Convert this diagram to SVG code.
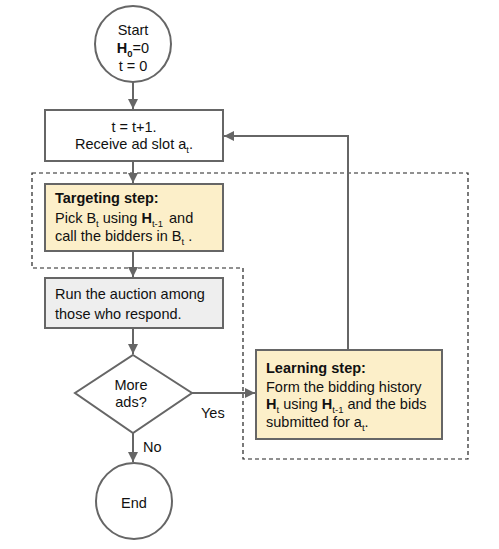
<svg xmlns="http://www.w3.org/2000/svg" width="499" height="549" viewBox="0 0 499 549">
<defs>
<style>
text{font-family:"Liberation Sans",Arial,sans-serif;font-size:14.5px;fill:#111}
.c{text-anchor:middle}
.b{font-weight:bold}
.s{font-size:9.5px}
.shape{stroke:#666;stroke-width:2}
.conn{stroke:#666;stroke-width:2;fill:none}
.dash{stroke:#222;stroke-width:1.2;fill:none;stroke-dasharray:4 3}
</style>
<marker id="ah" markerUnits="userSpaceOnUse" markerWidth="12" markerHeight="12" refX="10" refY="5" orient="auto">
<path d="M0,0 L10,5 L0,10 Z" fill="#666"/>
</marker>
</defs>
<rect width="499" height="549" fill="#fff"/>
<path id="region" class="dash" d="M32,173 H468 V459 H243 V268 H32 Z"/>
<g id="connectors">
<line class="conn" x1="133" y1="82" x2="133" y2="109" marker-end="url(#ah)"/>
<line class="conn" x1="133" y1="161" x2="133" y2="183" marker-end="url(#ah)"/>
<line class="conn" x1="133" y1="251" x2="133" y2="277" marker-end="url(#ah)"/>
<line class="conn" x1="133" y1="328" x2="133" y2="354" marker-end="url(#ah)"/>
<line class="conn" x1="133" y1="433" x2="133" y2="462" marker-end="url(#ah)"/>
<line class="conn" x1="192" y1="393" x2="255" y2="393" marker-end="url(#ah)"/>
<polyline class="conn" points="348,350 348,136 224,136" marker-end="url(#ah)"/>
<text x="201" y="418">Yes</text>
<text x="143" y="452">No</text>
</g>
<g id="start">
<circle class="shape" cx="133" cy="44" r="38" fill="#fff"/>
<text class="c" x="133" y="35">Start</text>
<text class="c" x="133" y="53"><tspan class="b">H</tspan><tspan class="s b" dy="4">0</tspan><tspan dy="-4">=0</tspan></text>
<text class="c" x="133" y="71">t = 0</text>
</g>
<g id="receive">
<rect class="shape" x="45" y="110" width="178" height="51" fill="#fff"/>
<text class="c" x="134" y="132">t = t+1.</text>
<text class="c" x="134" y="149">Receive ad slot a<tspan class="s" dy="4">t</tspan><tspan dy="-4">.</tspan></text>
</g>
<g id="targeting">
<rect class="shape" x="45" y="184" width="178" height="67" fill="#fcefc9"/>
<text class="b" x="55" y="203">Targeting step:</text>
<text x="55" y="223">Pick B<tspan class="s" dy="4">t</tspan><tspan dy="-4"> using </tspan><tspan class="b">H</tspan><tspan class="s" dy="4">t-1</tspan><tspan dy="-4" dx="6">and</tspan></text>
<text x="55" y="241">call the bidders in B<tspan class="s" dy="4">t</tspan><tspan dy="-4"> .</tspan></text>
</g>
<g id="auction">
<rect class="shape" x="45" y="278" width="178" height="50" fill="#eeeeee"/>
<text x="55" y="299">Run the auction among</text>
<text x="55" y="319">those who respond.</text>
</g>
<g id="decision">
<polygon class="shape" points="133,355 192,393 133,433 75,393" fill="#fff"/>
<text class="c" x="131" y="390">More</text>
<text class="c" x="131" y="407">ads?</text>
</g>
<g id="learning">
<rect class="shape" x="256" y="350" width="186" height="89" fill="#fcefc9"/>
<text class="b" x="266" y="373">Learning step:</text>
<text x="266" y="392">Form the bidding history</text>
<text x="266" y="409"><tspan class="b">H</tspan><tspan class="s" dy="4">t</tspan><tspan dy="-4"> using </tspan><tspan class="b">H</tspan><tspan class="s" dy="4">t-1</tspan><tspan dy="-4"> and the bids</tspan></text>
<text x="266" y="427">submitted for a<tspan class="s" dy="4">t</tspan><tspan dy="-4">.</tspan></text>
</g>
<g id="end">
<circle class="shape" cx="134" cy="501" r="38" fill="#fff"/>
<text class="c" x="134" y="508">End</text>
</g>
</svg>
